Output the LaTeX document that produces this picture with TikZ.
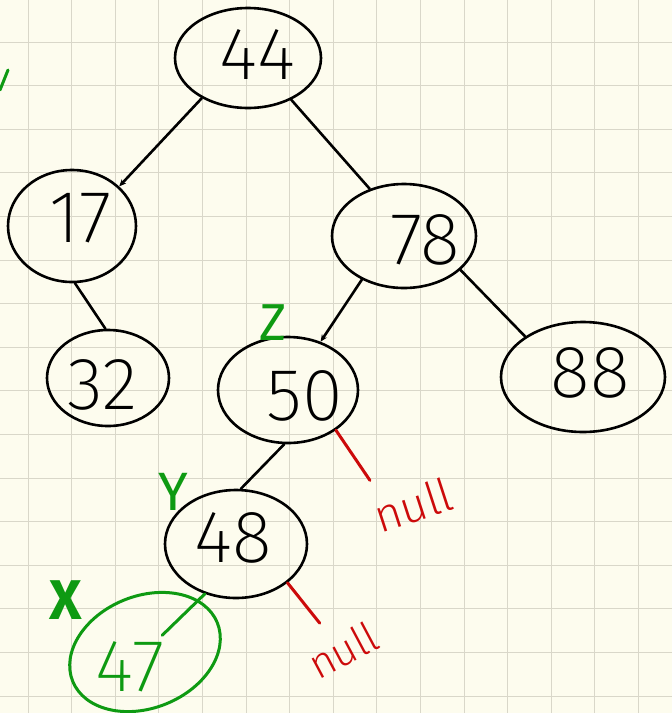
\documentclass[tikz,border=0pt]{standalone}
\usepackage{fontspec}
\newfontfamily\handfont{Fira Sans ExtraLight}
\newfontfamily\notefont{Fira Sans Light}
\newfontfamily\markfont{Fira Sans}
\usetikzlibrary{shapes.geometric,arrows.meta}
\definecolor{paper}{HTML}{FDFCEE}
\definecolor{gridline}{HTML}{D9D7C9}
\definecolor{pengreen}{HTML}{0E9A12}
\definecolor{penred}{HTML}{CC0A0A}
\tikzset{
  key/.style={ellipse, draw=black, line width=2.6pt, inner sep=0pt},
  digits/.style={font=\handfont\fontsize{74}{74}\selectfont, inner sep=0pt},
  edge/.style={line width=2.6pt, line cap=round},
  tipped/.style={edge, -{Stealth[length=7pt,width=6pt]}},
  greenpen/.style={draw=pengreen, line width=3pt, line cap=round},
  redpen/.style={draw=penred, line width=3pt, line cap=round},
  note/.style={font=\notefont\fontsize{46}{46}\selectfont, inner sep=0pt},
  penmark/.style={text=pengreen, inner sep=0pt},
}
\begin{document}
\begin{tikzpicture}[x=1pt,y=-1pt]
  % paper and squared grid
  \fill[paper] (0,0) rectangle (672,713);
  \useasboundingbox (0,0) rectangle (672,713);
  \foreach \i in {0,...,15}
    \draw[gridline, line width=1pt] ({28+43.6*\i},0) -- ({28+43.6*\i},713);
  \foreach \j in {0,...,16}
    \draw[gridline, line width=1pt] (0,{-1.6+43.6*\j}) -- (672,{-1.6+43.6*\j});

  % tree keys
  \node[key, minimum width=146, minimum height=100] (n44) at (248,58) {};
  \node[key, minimum width=128, minimum height=112] (n17) at (72,226) {};
  \node[key, minimum width=144, minimum height=104] (n78) at (404,236) {};
  \node[key, minimum width=122, minimum height=96]  (n32) at (108,378) {};
  \node[key, minimum width=140, minimum height=106] (n50) at (288,390) {};
  \node[key, minimum width=164, minimum height=110] (n88) at (583,377) {};
  \node[key, minimum width=142, minimum height=108] (n48) at (236,544) {};
  \node[ellipse, greenpen, rotate=22, inner sep=0pt,
        minimum width=156, minimum height=112] (n47) at (145,652) {};

  % key labels
  \node[digits] (t44) at (257,55) {44};
  \node[digits] (t17) at (81,218) {17};
  \node[digits] (t78) at (425,240) {78};
  \node[digits] (t32) at (102,385) {32};
  \node[digits] (t50) at (305,396) {50};
  \node[digits] (t88) at (590,373) {88};
  \node[digits] (t48) at (233,538) {48};
  \node[digits, text=pengreen] (t47) at (130,667) {47};

  % child links
  \draw[tipped] (n44.221) -- (n17.40);
  \draw[edge]   (n44.316) -- (n78.126);
  \draw[edge]   (n17.273) -- (n32.93);
  \draw[tipped] (n78.226) -- (n50.56);
  \draw[edge]   (n78.329) -- (n88.145);
  \draw[edge]   (n50.266) -- (n48.85);
  \draw[greenpen, shorten >=24pt] (n48.238) -- (n47.center);

  % empty right children
  \node[note, text=penred, rotate=18] (null50) at (413,505) {null};
  \node[note, text=penred, rotate=28, font=\notefont\fontsize{42}{42}\selectfont] (null48) at (343,650) {null};
  \draw[redpen] (n50.-40) -- ([shift={(-5,-37)}]null50.west);
  \draw[redpen] (n48.-37) -- ([shift={(9,-44)}]null48.west);

  % pointer names
  \node[penmark, font=\markfont\fontsize{52}{52}\selectfont] (lz) at (273,323) {Z};
  \node[penmark, font=\markfont\fontsize{54}{54}\selectfont] (ly) at (173,492) {Y};
  \node[penmark, font=\markfont\bfseries\fontsize{56}{56}\selectfont] (lx) at (66,600) {X};
  \coordinate (tickA) at (0,90);
  \coordinate (tickB) at (8,70);
  \draw[greenpen] (tickA) -- (tickB);
\end{tikzpicture}
\end{document}
